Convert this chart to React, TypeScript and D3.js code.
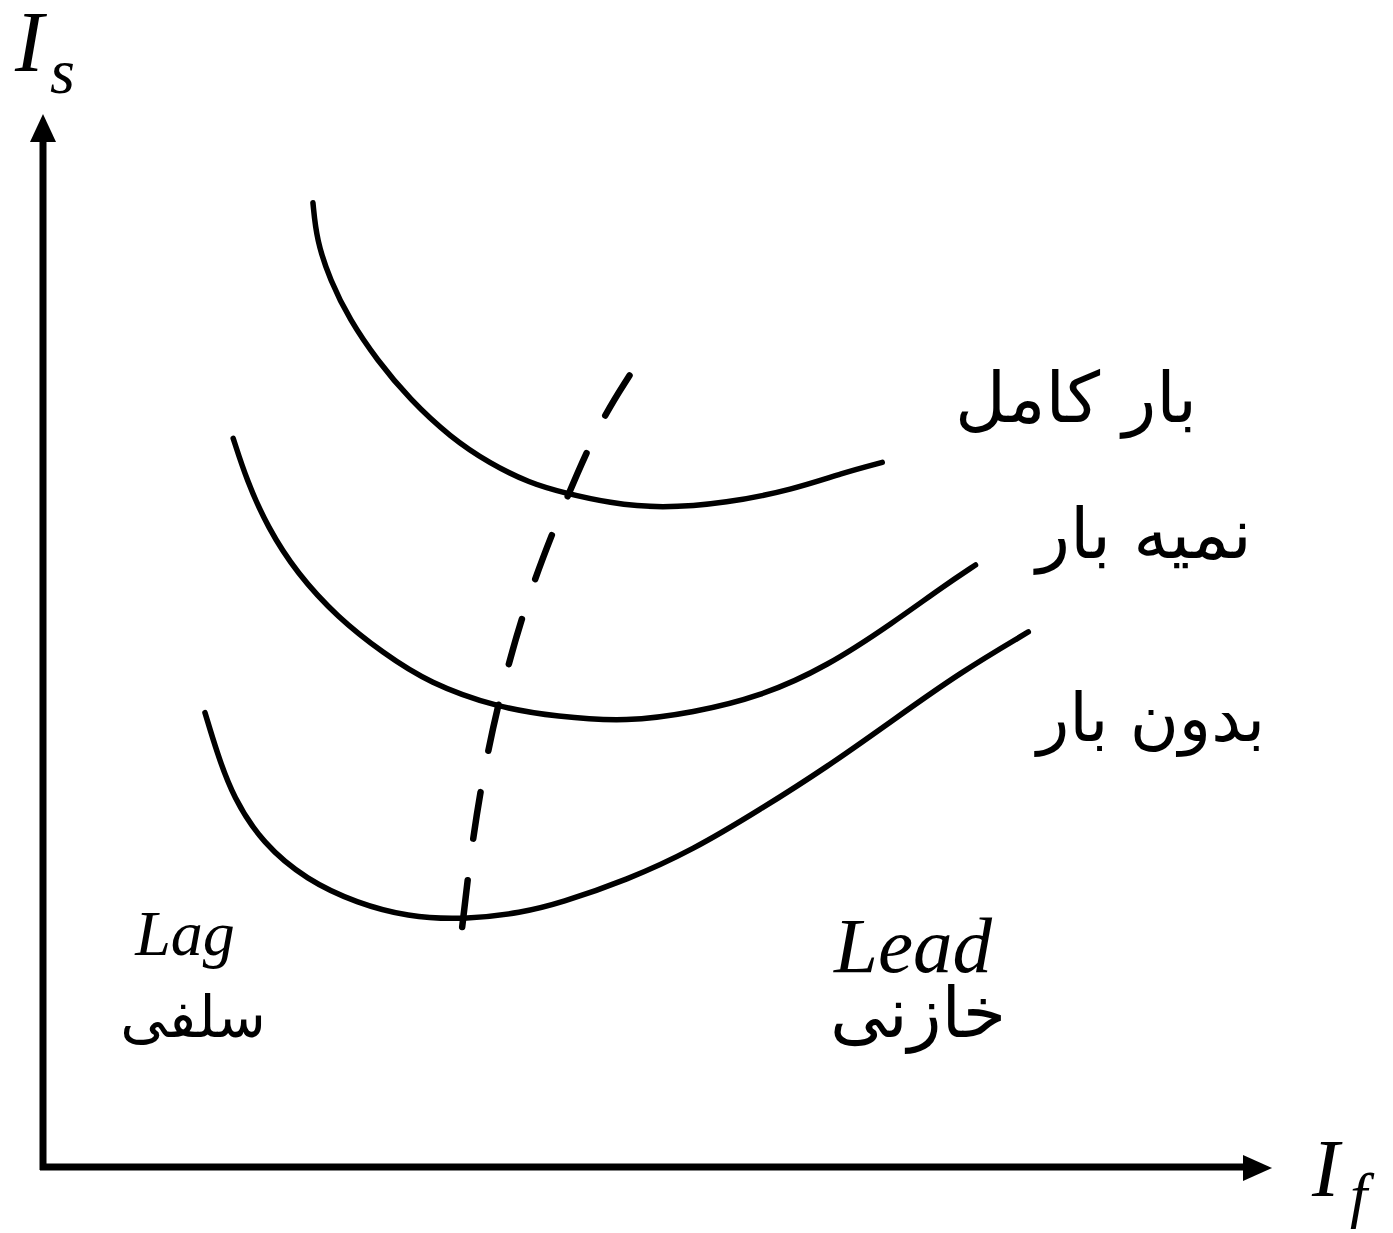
import React from "react";
import * as d3 from "d3";

// V-curves of a synchronous motor: armature current Is vs field current If
const fullLoad: [number, number][] = [
  [2.2, 9.21], [2.23, 8.85], [2.34, 8.47], [2.5, 8.09], [2.72, 7.71], [2.99, 7.33],
  [3.32, 6.97], [3.64, 6.72], [3.97, 6.53], [4.24, 6.44], [4.62, 6.34], [5.03, 6.29],
  [5.57, 6.34], [6.11, 6.47], [6.52, 6.63], [6.84, 6.73],
];
const halfLoad: [number, number][] = [
  [1.55, 6.96], [1.66, 6.56], [1.83, 6.11], [2.07, 5.67], [2.4, 5.25], [2.77, 4.91],
  [3.15, 4.62], [3.7, 4.39], [4.19, 4.3], [4.76, 4.25], [5.3, 4.34], [5.84, 4.49],
  [6.39, 4.78], [6.93, 5.2], [7.33, 5.54], [7.6, 5.75],
];
const noLoad: [number, number][] = [
  [1.32, 4.34], [1.42, 3.95], [1.55, 3.53], [1.79, 3.09], [2.15, 2.74], [2.56, 2.52],
  [2.97, 2.39], [3.42, 2.36], [3.91, 2.43], [4.21, 2.52], [4.76, 2.74], [5.3, 3.03],
  [5.84, 3.41], [6.39, 3.82], [6.93, 4.27], [7.47, 4.72], [8.03, 5.11],
];
// unity power factor locus (dashed)
const unityPF: [number, number][] = [
  [4.78, 7.56], [4.54, 7.12], [4.27, 6.4], [3.99, 5.58], [3.78, 4.77], [3.6, 3.86],
  [3.48, 2.96], [3.4, 2.12],
];

const curveLabels = ["بار کامل", "نمیه بار", "بدون بار"];
const regionLatin = ["Lag", "Lead"];
const regionPersian = ["سلفی", "خازنی"];

const W = 1393;
const H = 1233;

export default function App() {
  const x = d3.scaleLinear().domain([0, 10]).range([43, 1270]);
  const y = d3.scaleLinear().domain([0, 10]).range([1167, 120]);
  const line = d3
    .line<[number, number]>()
    .x((d) => x(d[0]))
    .y((d) => y(d[1]))
    .curve(d3.curveBasis);

  const serif = "'Liberation Serif', 'Times New Roman', serif";
  const arabic = "'DejaVu Sans', sans-serif";

  return (
    <svg
      width={W}
      height={H}
      viewBox={`0 0 ${W} ${H}`}
      style={{ position: "absolute", left: 0, top: 0, background: "#fff" }}
    >
      <rect x={0} y={0} width={W} height={H} fill="#fff" />
      {/* axes */}
      <line x1={x(0)} y1={y(0) + 3} x2={x(0)} y2={y(10) + 20} stroke="#000" strokeWidth={7} />
      <polygon
        points={`${x(0)},${y(10) - 6} ${x(0) - 13},${y(10) + 22} ${x(0) + 13},${y(10) + 22}`}
        fill="#000"
      />
      <line x1={x(0) - 3} y1={y(0)} x2={x(10) - 22} y2={y(0)} stroke="#000" strokeWidth={7} />
      <polygon
        points={`${x(10) + 2},${y(0) + 1} ${x(10) - 27},${y(0) - 12} ${x(10) - 27},${y(0) + 14}`}
        fill="#000"
      />

      {/* curves */}
      {[fullLoad, halfLoad, noLoad].map((c, i) => (
        <path key={i} d={line(c) || ""} fill="none" stroke="#000" strokeWidth={5.5} strokeLinecap="round" />
      ))}
      <path
        d={line(unityPF) || ""}
        fill="none"
        stroke="#000"
        strokeWidth={6.5}
        strokeLinecap="round"
        strokeDasharray="47 42"
      />

      {/* axis labels */}
      <text x={15} y={71} fontFamily={serif} fontStyle="italic" fontSize={86}>I</text>
      <text x={50} y={93} fontFamily={serif} fontStyle="italic" fontSize={64}>s</text>
      <text x={1312} y={1196} fontFamily={serif} fontStyle="italic" fontSize={82}>I</text>
      <text x={1350} y={1216} fontFamily={serif} fontStyle="italic" fontSize={62}>f</text>

      {/* curve labels */}
      <text x={1076} y={422} textAnchor="middle" fontFamily={arabic} fontSize={70}>{curveLabels[0]}</text>
      <text x={1144} y={558} textAnchor="middle" fontFamily={arabic} fontSize={70}>{curveLabels[1]}</text>
      <text x={1151} y={741} textAnchor="middle" fontFamily={arabic} fontSize={67}>{curveLabels[2]}</text>

      {/* region labels */}
      <text x={185} y={955} textAnchor="middle" fontFamily={serif} fontStyle="italic" fontSize={64}>{regionLatin[0]}</text>
      <text x={913} y={972} textAnchor="middle" fontFamily={serif} fontStyle="italic" fontSize={79}>{regionLatin[1]}</text>
      <text x={193} y={1037} textAnchor="middle" fontFamily={arabic} fontSize={58}>{regionPersian[0]}</text>
      <text x={918} y={1037} textAnchor="middle" fontFamily={arabic} fontSize={70}>{regionPersian[1]}</text>
    </svg>
  );
}
